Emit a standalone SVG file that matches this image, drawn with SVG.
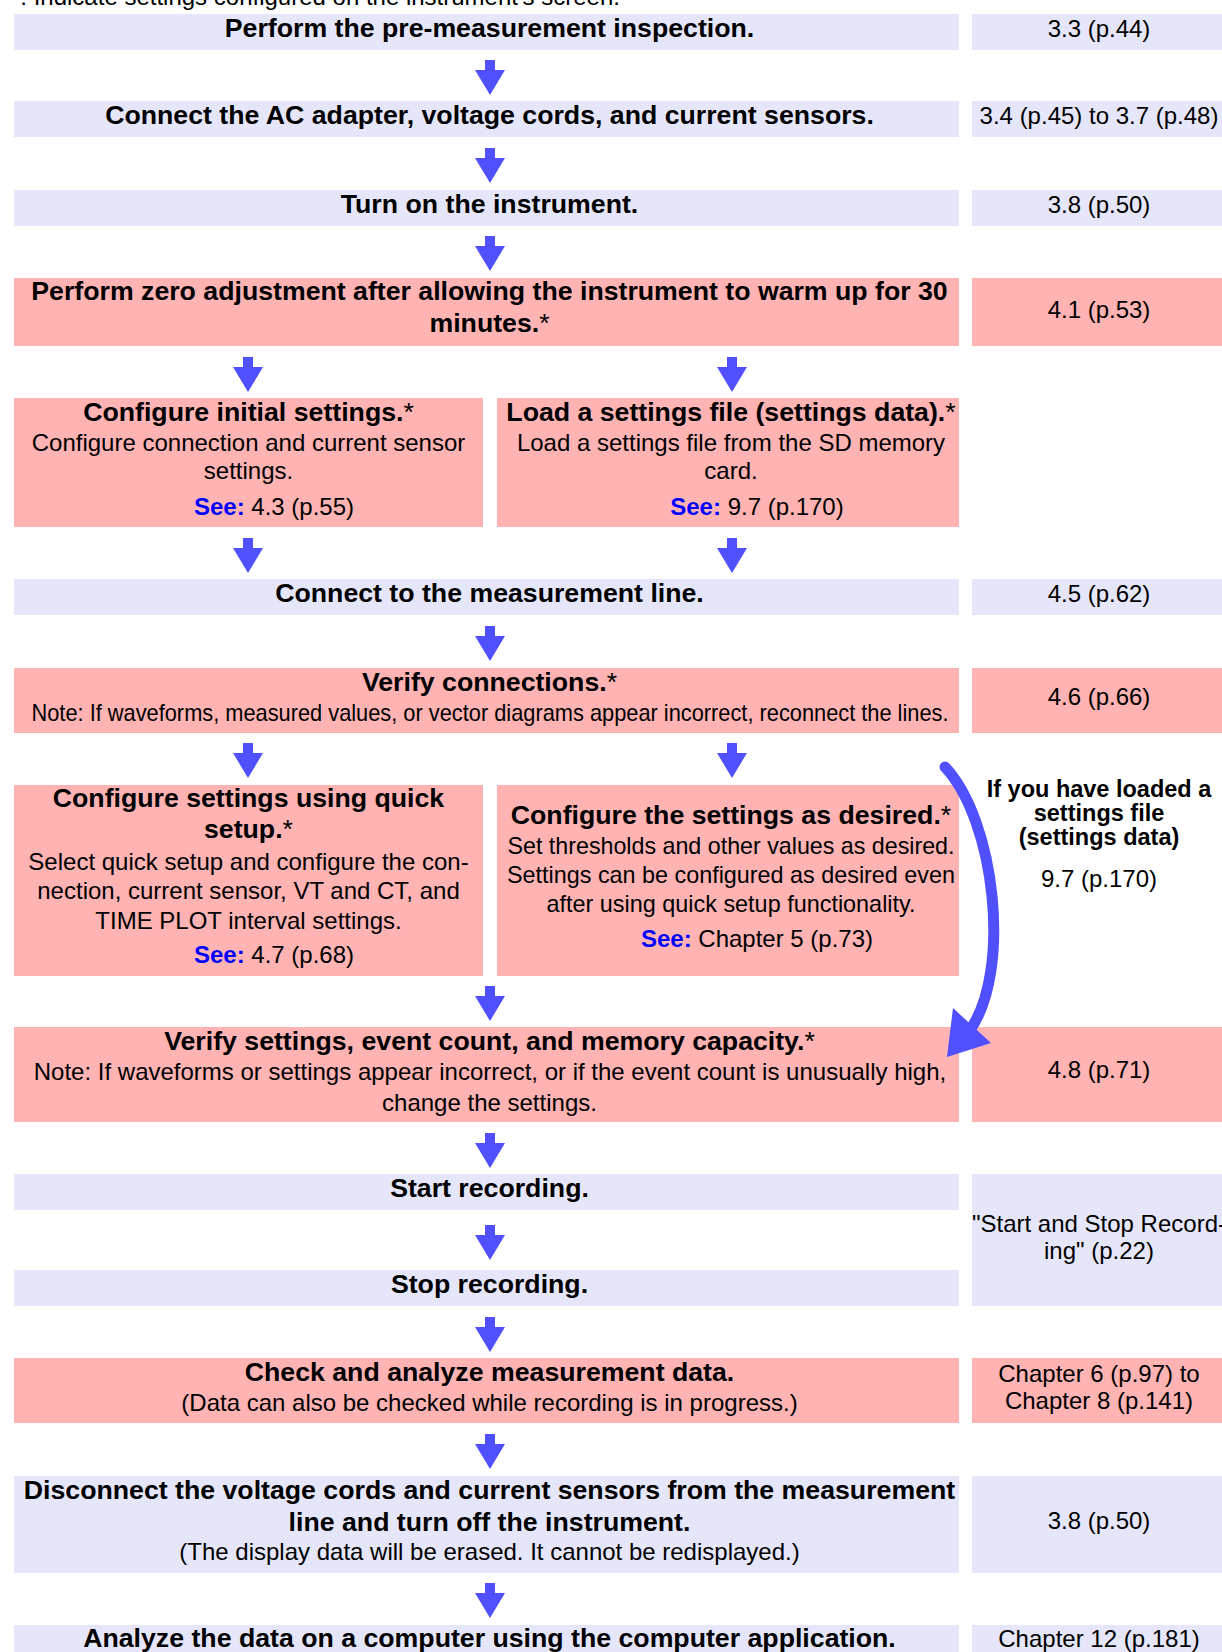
<svg xmlns="http://www.w3.org/2000/svg" xmlns:xlink="http://www.w3.org/1999/xlink" width="1222" height="1652" viewBox="0 0 1222 1652">
<defs>
<style>
text{font-family:"Liberation Sans",Arial,Helvetica,sans-serif;fill:#000}
.b{font-weight:bold;font-size:26.7px;text-anchor:middle}
.r{font-size:24px;text-anchor:middle}
.rb{font-weight:bold;font-size:23.5px;text-anchor:middle}
.n{font-weight:normal}
.see{font-weight:bold;fill:#0000ff}
.lav{fill:#e6e6fa}
.pink{fill:#ffb3b3}
.arr{fill:#5050ff}
</style>
<path id="arrow" class="arr" d="M-5 0H5V10H15L0 35L-15 10H-5Z"/>
</defs>
<rect width="1222" height="1652" fill="#fff"/>
<text x="11" y="5" font-size="24">*: Indicate settings configured on the instrument's screen.</text>

<g id="n1">
<rect class="lav" x="14" y="14" width="945" height="36"/>
<rect class="lav" x="972" y="14" width="250" height="36"/>
<text class="b" x="489.5" y="37">Perform the pre-measurement inspection.</text>
<text class="r" x="1099" y="37">3.3 (p.44)</text>
</g>
<g id="n2">
<rect class="lav" x="14" y="101" width="945" height="36"/>
<rect class="lav" x="972" y="101" width="250" height="36"/>
<text class="b" x="489.5" y="124">Connect the AC adapter, voltage cords, and current sensors.</text>
<text class="r" x="1099" y="124">3.4 (p.45) to 3.7 (p.48)</text>
</g>
<g id="n3">
<rect class="lav" x="14" y="190" width="945" height="36"/>
<rect class="lav" x="972" y="190" width="250" height="36"/>
<text class="b" x="489.5" y="213">Turn on the instrument.</text>
<text class="r" x="1099" y="213">3.8 (p.50)</text>
</g>
<g id="n4">
<rect class="pink" x="14" y="278" width="945" height="68"/>
<rect class="pink" x="972" y="278" width="250" height="68"/>
<text class="b" x="489.5" y="300">Perform zero adjustment after allowing the instrument to warm up for 30</text>
<text class="b" x="489.5" y="332">minutes.<tspan class="n">*</tspan></text>
<text class="r" x="1099" y="318">4.1 (p.53)</text>
</g>
<g id="n5a">
<rect class="pink" x="14" y="398" width="469" height="129"/>
<text class="b" x="248.5" y="421">Configure initial settings.<tspan class="n">*</tspan></text>
<text class="r" x="248.5" y="451">Configure connection and current sensor</text>
<text class="r" x="248.5" y="479">settings.</text>
<text class="r" x="274" y="515"><tspan class="see">See:</tspan> 4.3 (p.55)</text>
</g>
<g id="n5b">
<rect class="pink" x="497" y="398" width="462" height="129"/>
<text class="b" x="731" y="421">Load a settings file (settings data).<tspan class="n">*</tspan></text>
<text class="r" x="731" y="451">Load a settings file from the SD memory</text>
<text class="r" x="731" y="479">card.</text>
<text class="r" x="757" y="515"><tspan class="see">See:</tspan> 9.7 (p.170)</text>
</g>
<g id="n6">
<rect class="lav" x="14" y="579" width="945" height="36"/>
<rect class="lav" x="972" y="579" width="250" height="36"/>
<text class="b" x="489.5" y="602">Connect to the measurement line.</text>
<text class="r" x="1099" y="602">4.5 (p.62)</text>
</g>
<g id="n7">
<rect class="pink" x="14" y="668" width="945" height="65"/>
<rect class="pink" x="972" y="668" width="250" height="65"/>
<text class="b" x="489.5" y="691">Verify connections.<tspan class="n">*</tspan></text>
<text class="r" x="490" y="721" textLength="917" lengthAdjust="spacingAndGlyphs">Note: If waveforms, measured values, or vector diagrams appear incorrect, reconnect the lines.</text>
<text class="r" x="1099" y="705">4.6 (p.66)</text>
</g>
<g id="n8a">
<rect class="pink" x="14" y="785" width="469" height="191"/>
<text class="b" x="248.5" y="807">Configure settings using quick</text>
<text class="b" x="248.5" y="838">setup.<tspan class="n">*</tspan></text>
<text class="r" x="248.5" y="870">Select quick setup and configure the con-</text>
<text class="r" x="248.5" y="899">nection, current sensor, VT and CT, and</text>
<text class="r" x="248.5" y="929">TIME PLOT interval settings.</text>
<text class="r" x="274" y="963"><tspan class="see">See:</tspan> 4.7 (p.68)</text>
</g>
<g id="n8b">
<rect class="pink" x="497" y="785" width="462" height="191"/>
<text class="b" x="731" y="824">Configure the settings as desired.<tspan class="n">*</tspan></text>
<text class="r" x="731" y="854" textLength="447" lengthAdjust="spacingAndGlyphs">Set thresholds and other values as desired.</text>
<text class="r" x="731" y="883" textLength="448" lengthAdjust="spacingAndGlyphs">Settings can be configured as desired even</text>
<text class="r" x="731" y="912" textLength="369" lengthAdjust="spacingAndGlyphs">after using quick setup functionality.</text>
<text class="r" x="757" y="947"><tspan class="see">See:</tspan> Chapter 5 (p.73)</text>
</g>
<g id="n8note">
<text class="rb" x="1099" y="797">If you have loaded a</text>
<text class="rb" x="1099" y="821">settings file</text>
<text class="rb" x="1099" y="845">(settings data)</text>
<text class="r" x="1099" y="887">9.7 (p.170)</text>
</g>
<g id="n9">
<rect class="pink" x="14" y="1027" width="945" height="95"/>
<rect class="pink" x="972" y="1027" width="250" height="95"/>
<text class="b" x="489.5" y="1050">Verify settings, event count, and memory capacity.<tspan class="n">*</tspan></text>
<text class="r" x="490" y="1080">Note: If waveforms or settings appear incorrect, or if the event count is unusually high,</text>
<text class="r" x="489.5" y="1111">change the settings.</text>
<text class="r" x="1099" y="1078">4.8 (p.71)</text>
</g>
<g id="n10">
<rect class="lav" x="14" y="1174" width="945" height="36"/>
<text class="b" x="489.5" y="1197">Start recording.</text>
</g>
<g id="n11">
<rect class="lav" x="14" y="1270" width="945" height="36"/>
<text class="b" x="489.5" y="1293">Stop recording.</text>
</g>
<g id="n10ref">
<rect class="lav" x="972" y="1174" width="250" height="132"/>
<text class="r" x="1099" y="1232">"Start and Stop Record-</text>
<text class="r" x="1099" y="1259">ing" (p.22)</text>
</g>
<g id="n12">
<rect class="pink" x="14" y="1358" width="945" height="65"/>
<rect class="pink" x="972" y="1358" width="250" height="65"/>
<text class="b" x="489.5" y="1381">Check and analyze measurement data.</text>
<text class="r" x="489.5" y="1411">(Data can also be checked while recording is in progress.)</text>
<text class="r" x="1099" y="1382">Chapter 6 (p.97) to</text>
<text class="r" x="1099" y="1409">Chapter 8 (p.141)</text>
</g>
<g id="n13">
<rect class="lav" x="14" y="1476" width="945" height="97"/>
<rect class="lav" x="972" y="1476" width="250" height="97"/>
<text class="b" x="489.5" y="1499">Disconnect the voltage cords and current sensors from the measurement</text>
<text class="b" x="489.5" y="1531">line and turn off the instrument.</text>
<text class="r" x="489.5" y="1560">(The display data will be erased. It cannot be redisplayed.)</text>
<text class="r" x="1099" y="1529">3.8 (p.50)</text>
</g>
<g id="n14">
<rect class="lav" x="14" y="1625" width="945" height="40"/>
<rect class="lav" x="972" y="1625" width="250" height="40"/>
<text class="b" x="489.5" y="1647">Analyze the data on a computer using the computer application.</text>
<text class="r" x="1099" y="1647">Chapter 12 (p.181)</text>
</g>

<g id="connectors">
<use xlink:href="#arrow" x="490" y="60"/>
<use xlink:href="#arrow" x="490" y="148"/>
<use xlink:href="#arrow" x="490" y="236"/>
<use xlink:href="#arrow" x="248" y="357"/>
<use xlink:href="#arrow" x="732" y="357"/>
<use xlink:href="#arrow" x="248" y="538"/>
<use xlink:href="#arrow" x="732" y="538"/>
<use xlink:href="#arrow" x="490" y="626"/>
<use xlink:href="#arrow" x="248" y="743"/>
<use xlink:href="#arrow" x="732" y="743"/>
<use xlink:href="#arrow" x="490" y="986"/>
<use xlink:href="#arrow" x="490" y="1133"/>
<use xlink:href="#arrow" x="490" y="1225"/>
<use xlink:href="#arrow" x="490" y="1317"/>
<use xlink:href="#arrow" x="490" y="1434"/>
<use xlink:href="#arrow" x="490" y="1583"/>
<path d="M945 767C995 820 1012 970 970 1030" fill="none" stroke="#5050ff" stroke-width="11" stroke-linecap="round"/>
<polygon class="arr" points="953,1008 991,1043 947,1057"/>
</g>
</svg>
